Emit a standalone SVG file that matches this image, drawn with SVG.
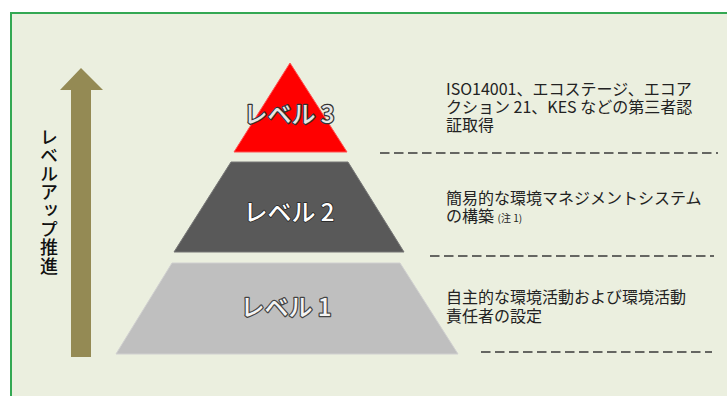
<svg xmlns="http://www.w3.org/2000/svg" width="727" height="396" viewBox="0 0 727 396">
<style>
.lvl{font-family:"Noto Sans CJK JP","Liberation Sans",sans-serif;font-size:24px;font-weight:500;text-anchor:middle;paint-order:stroke;stroke-linejoin:round}
.desc{font-family:"Noto Sans CJK JP","Liberation Sans",sans-serif;font-size:16px;fill:#222}
.dash{stroke:#3a3a3a;stroke-width:1.5;stroke-dasharray:9.5 4.5;fill:none}
</style>
<rect x="0" y="0" width="727" height="396" fill="#ffffff"/>
<rect id="frame" x="11" y="13" width="740" height="400" fill="#ebefdf" stroke="#33a853" stroke-width="2"/>
<g id="arrow">
<polygon points="81,68 103,90 91,90 91,357 71,357 71,90 60,90" fill="#948a54"/>
<text x="49" y="128" style="writing-mode:vertical-rl;font-family:'Noto Sans CJK JP',sans-serif;font-size:18px;font-weight:500;letter-spacing:0.4px" fill="#111">レベルアップ推進</text>
</g>
<g id="level3">
<polygon points="290,63 347,152 234,152" fill="#ff0000" stroke="#ff5050" stroke-width="1"/>
<text class="lvl" x="289" y="123" fill="#e6e6e6" stroke="#333" stroke-width="2.5">レベル 3</text>
</g>
<g id="level2">
<polygon points="231,162 348,162 404,252 174,252" fill="#595959" stroke="#777" stroke-width="1"/>
<text class="lvl" x="289" y="221" fill="#ffffff" stroke="#222" stroke-width="1.5">レベル 2</text>
</g>
<g id="level1">
<polygon points="172,263 400,263 458,354 116,354" fill="#bfbfbf" stroke="#d0d0d0" stroke-width="1"/>
<text class="lvl" x="286" y="316" fill="#f4f4f4" stroke="#444" stroke-width="2.5">レベル 1</text>
</g>
<g id="desc3">
<text class="desc" x="446" y="95">ISO14001、エコステージ、エコア</text>
<text class="desc" x="446" y="113">クション 21、KES などの第三者認</text>
<text class="desc" x="446" y="131">証取得</text>
</g>
<g id="desc2">
<text class="desc" x="446" y="204">簡易的な環境マネジメントシステム</text>
<text class="desc" x="446" y="222">の構築 <tspan font-size="10">(注 1)</tspan></text>
</g>
<g id="desc1">
<text class="desc" x="446" y="303">自主的な環境活動および環境活動</text>
<text class="desc" x="446" y="322">責任者の設定</text>
</g>
<g id="connectors">
<line class="dash" x1="380" y1="153" x2="718" y2="153"/>
<line class="dash" x1="430" y1="256" x2="714" y2="256"/>
<line class="dash" x1="481" y1="352" x2="712" y2="352"/>
</g>
</svg>
